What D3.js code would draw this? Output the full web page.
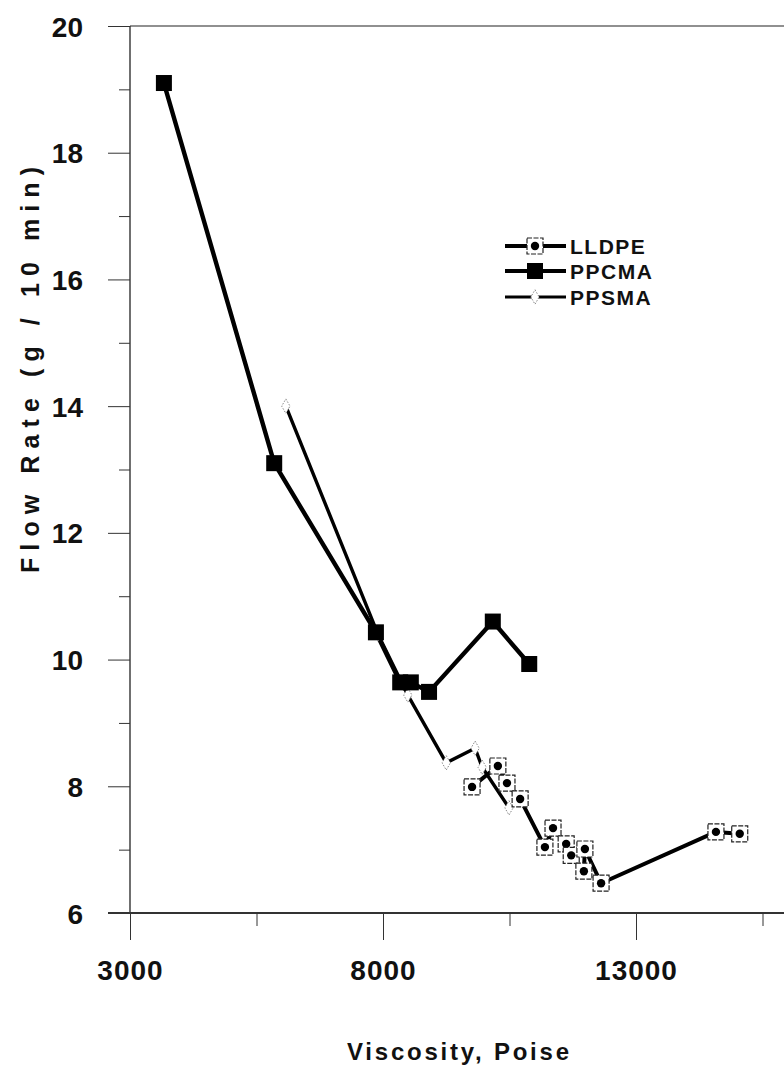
<!DOCTYPE html>
<html>
<head>
<meta charset="utf-8">
<script src="https://cdn.jsdelivr.net/npm/d3@7/dist/d3.min.js"></script>
<style>
  html, body { margin: 0; padding: 0; background: #fff; }
  svg { display: block; }
  text { font-family: "Liberation Sans", Arial, "Helvetica", sans-serif; font-weight: bold; fill: #111; }
</style>
</head>
<body>
<svg id="chart" width="784" height="1069"></svg>
<script>
// ---------------- data ----------------
const seriesNames = ["LLDPE", "PPCMA", "PPSMA"];

const lldpeX = [9760, 10270, 10450, 10710, 11200, 11360, 11620, 11720, 11970, 11990, 12310, 14580, 15050];
const lldpeY = [7.99, 8.32, 8.05, 7.80, 7.04, 7.34, 7.09, 6.91, 6.66, 7.01, 6.47, 7.28, 7.25];

const ppcmaX = [3670, 5850, 7860, 8340, 8550, 8910, 10170, 10890];
const ppcmaY = [19.1, 13.1, 10.43, 9.64, 9.64, 9.49, 10.6, 9.93];

const ppsmaX = [6080, 7900, 8490, 9250, 9820, 9960, 10490];
const ppsmaY = [14.0, 10.4, 9.44, 8.37, 8.60, 8.30, 7.66];

const xMajorTicks = [3000, 8000, 13000];
const xMinorTicks = [5500, 10500, 15500];
const yMajorTicks = [6, 8, 10, 12, 14, 16, 18, 20];
const yMinorTicks = [7, 9, 11, 13, 15, 17, 19];

const xTitle = "Viscosity, Poise";
const yTitle = "Flow Rate (g / 10 min)";

// ---------------- layout ----------------
const svg = d3.select("#chart");
const x = d3.scaleLinear().domain([3000, 13000]).range([130, 636]);
const y = d3.scaleLinear().domain([6, 20]).range([913, 26]);
const xRight = 784;

// frame: top border
svg.append("line").attr("x1", x(3000)).attr("x2", xRight).attr("y1", y(20)).attr("y2", y(20))
  .attr("stroke", "#222").attr("stroke-width", 1.2);

// y axis
const yMajor = d3.axisLeft(y).tickValues(yMajorTicks).tickSize(22).tickPadding(25).tickFormat(d3.format("d"));
const yMinor = d3.axisLeft(y).tickValues(yMinorTicks).tickSize(11).tickFormat("");
const gy = svg.append("g").attr("transform", `translate(${x(3000)},0)`).call(yMajor);
svg.append("g").attr("transform", `translate(${x(3000)},0)`).call(yMinor).select(".domain").remove();
gy.select(".domain").attr("d", `M0,${y(20)}V${y(6)}`).attr("stroke", "#222").attr("stroke-width", 1.3);
gy.selectAll("text").style("font-size", "28px").attr("dy", "0.36em");

// x axis
const xMajor = d3.axisBottom(x).tickValues(xMajorTicks).tickSize(27).tickPadding(20).tickFormat(d3.format("d"));
const xMinor = d3.axisBottom(x).tickValues(xMinorTicks).tickSize(13).tickFormat("");
const gx = svg.append("g").attr("transform", `translate(0,${y(6)})`).call(xMajor);
svg.append("g").attr("transform", `translate(0,${y(6)})`).call(xMinor).select(".domain").remove();
gx.select(".domain").attr("d", `M${x(3000) - 22},0H${xRight}`).attr("stroke", "#333").attr("stroke-width", 1.8);
gx.selectAll("text").style("font-size", "28px").style("letter-spacing", "1px");
svg.selectAll(".tick line").attr("stroke", "#333").attr("stroke-width", 1);

// axis titles
svg.append("text").attr("x", 458).attr("y", 1060).attr("text-anchor", "middle")
  .style("font-size", "24px").attr("textLength", 222).attr("lengthAdjust", "spacing").text(xTitle);
svg.append("text").attr("transform", "translate(39,370) rotate(-90)").attr("text-anchor", "middle")
  .style("font-size", "25px").attr("textLength", 406).attr("lengthAdjust", "spacing").text(yTitle);

// ---------------- series ----------------
const toPts = (xs, ys) => xs.map((v, i) => [v, ys[i]]);
const line = d3.line().x(d => x(d[0])).y(d => y(d[1]));

const lldpe = toPts(lldpeX, lldpeY);
const ppcma = toPts(ppcmaX, ppcmaY);
const ppsma = toPts(ppsmaX, ppsmaY);

// PPSMA line (thinner)
svg.append("path").datum(ppsma).attr("d", line).attr("fill", "none")
  .attr("stroke", "#000").attr("stroke-width", 3.4).attr("stroke-linejoin", "round");
// PPCMA line
svg.append("path").datum(ppcma).attr("d", line).attr("fill", "none")
  .attr("stroke", "#000").attr("stroke-width", 4.4).attr("stroke-linejoin", "round");
// LLDPE line
svg.append("path").datum(lldpe).attr("d", line).attr("fill", "none")
  .attr("stroke", "#000").attr("stroke-width", 4).attr("stroke-linejoin", "round");

function diamond(sel, cx, cy) {
  sel.append("path").attr("d", d3.symbol(d3.symbolDiamond, 60)())
    .attr("transform", `translate(${cx},${cy})`)
    .attr("fill", "#fff").attr("stroke", "#888").attr("stroke-width", 1).attr("stroke-dasharray", "1.5,1.5");
}
function openSquare(sel, cx, cy) {
  sel.append("rect").attr("x", cx - 8).attr("y", cy - 8).attr("width", 16).attr("height", 16)
    .attr("fill", "#fff").attr("stroke", "#222").attr("stroke-width", 1.2).attr("stroke-dasharray", "5,1.5");
  sel.append("circle").attr("cx", cx).attr("cy", cy).attr("r", 4.2).attr("fill", "#000");
}
function filledSquare(sel, cx, cy) {
  sel.append("rect").attr("x", cx - 8).attr("y", cy - 8).attr("width", 16).attr("height", 16).attr("fill", "#000");
}

const gPS = svg.append("g");
ppsma.forEach(d => diamond(gPS, x(d[0]), y(d[1])));
const gPC = svg.append("g");
ppcma.forEach(d => filledSquare(gPC, x(d[0]), y(d[1])));
const gLL = svg.append("g");
lldpe.forEach(d => openSquare(gLL, x(d[0]), y(d[1])));

// ---------------- legend ----------------
const legendRows = [246, 271, 297];
const lg = svg.append("g");
seriesNames.forEach((name, i) => {
  const cy = legendRows[i];
  lg.append("line").attr("x1", 505).attr("x2", 566).attr("y1", cy).attr("y2", cy)
    .attr("stroke", "#000").attr("stroke-width", i === 2 ? 3 : 4);
  if (i === 0) openSquare(lg, 535, cy);
  else if (i === 1) filledSquare(lg, 535, cy);
  else diamond(lg, 535, cy);
  lg.append("text").attr("x", 570).attr("y", cy).attr("dy", "0.36em")
    .style("font-size", "21px").style("letter-spacing", "1.5px").text(name);
});
</script>
</body>
</html>
